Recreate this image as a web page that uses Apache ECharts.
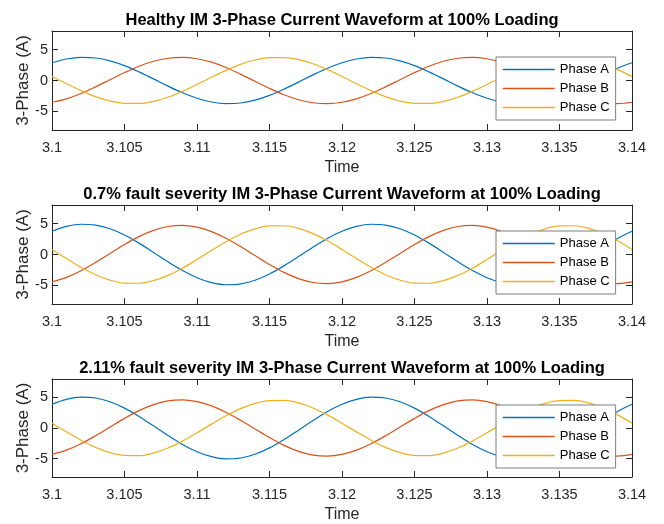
<!DOCTYPE html>
<html>
<head>
<meta charset="utf-8">
<script src="https://cdn.jsdelivr.net/npm/echarts@6/dist/echarts.min.js"></script>
<style>
  html, body { margin: 0; padding: 0; background: #fff; }
  #chart { width: 664px; height: 524px; }
</style>
</head>
<body>
<div id="chart"></div>
<script>
const time = [3.100, 3.101, 3.102, 3.103, 3.104, 3.105, 3.106, 3.107, 3.108, 3.109,
  3.110, 3.111, 3.112, 3.113, 3.114, 3.115, 3.116, 3.117, 3.118, 3.119,
  3.120, 3.121, 3.122, 3.123, 3.124, 3.125, 3.126, 3.127, 3.128, 3.129,
  3.130, 3.131, 3.132, 3.133, 3.134, 3.135, 3.136, 3.137, 3.138, 3.139, 3.140];

const titles = [
  "Healthy IM 3-Phase Current Waveform at 100% Loading",
  "0.7% fault severity IM 3-Phase Current Waveform at 100% Loading",
  "2.11% fault severity IM 3-Phase Current Waveform at 100% Loading"
];
const phaseNames = ["Phase A", "Phase B", "Phase C"];
const xTicks = [3.1, 3.105, 3.11, 3.115, 3.12, 3.125, 3.13, 3.135, 3.14];
const yTicks = [-5, 0, 5];

// healthy
const healthyA = [2.87, 3.48, 3.74, 3.64, 3.18, 2.41, 1.40, 0.26, -0.91, -1.99,
  -2.87, -3.48, -3.74, -3.64, -3.18, -2.41, -1.40, -0.26, 0.91, 1.99,
  2.87, 3.48, 3.74, 3.64, 3.18, 2.41, 1.40, 0.26, -0.91, -1.99,
  -2.87, -3.48, -3.74, -3.64, -3.18, -2.41, -1.40, -0.26, 0.91, 1.99, 2.87];
const healthyB = [-3.52, -2.96, -2.10, -1.03, 0.13, 1.28, 2.31, 3.11, 3.60, 3.75,
  3.52, 2.96, 2.10, 1.03, -0.13, -1.28, -2.31, -3.11, -3.60, -3.75,
  -3.52, -2.96, -2.10, -1.03, 0.13, 1.28, 2.31, 3.11, 3.60, 3.75,
  3.52, 2.96, 2.10, 1.03, -0.13, -1.28, -2.31, -3.11, -3.60, -3.75, -3.52];
const healthyC = [0.65, -0.52, -1.64, -2.61, -3.31, -3.69, -3.71, -3.37, -2.70, -1.76,
  -0.65, 0.52, 1.64, 2.61, 3.31, 3.69, 3.71, 3.37, 2.70, 1.76,
  0.65, -0.52, -1.64, -2.61, -3.31, -3.69, -3.71, -3.37, -2.70, -1.76,
  -0.65, 0.52, 1.64, 2.61, 3.31, 3.69, 3.71, 3.37, 2.70, 1.76, 0.65];

// 0.7% fault
const fault07A = [3.75, 4.54, 4.89, 4.75, 4.16, 3.15, 1.84, 0.34, -1.19, -2.60,
  -3.75, -4.54, -4.89, -4.75, -4.16, -3.15, -1.84, -0.34, 1.19, 2.60,
  3.75, 4.54, 4.89, 4.75, 4.16, 3.15, 1.84, 0.34, -1.19, -2.60,
  -3.75, -4.54, -4.89, -4.75, -4.16, -3.15, -1.84, -0.34, 1.19, 2.60, 3.75];
const fault07B = [-4.42, -3.70, -2.63, -1.30, 0.16, 1.61, 2.89, 3.90, 4.52, 4.70,
  4.42, 3.70, 2.63, 1.30, -0.16, -1.61, -2.89, -3.90, -4.52, -4.70,
  -4.42, -3.70, -2.63, -1.30, 0.16, 1.61, 2.89, 3.90, 4.52, 4.70,
  4.42, 3.70, 2.63, 1.30, -0.16, -1.61, -2.89, -3.90, -4.52, -4.70, -4.42];
const fault07C = [0.82, -0.65, -2.06, -3.27, -4.15, -4.63, -4.65, -4.22, -3.38, -2.21,
  -0.82, 0.65, 2.06, 3.27, 4.15, 4.63, 4.65, 4.22, 3.38, 2.21,
  0.82, -0.65, -2.06, -3.27, -4.15, -4.63, -4.65, -4.22, -3.38, -2.21,
  -0.82, 0.65, 2.06, 3.27, 4.15, 4.63, 4.65, 4.22, 3.38, 2.21, 0.82];

// 2.11% fault
const fault211A = [3.87, 4.68, 5.04, 4.90, 4.28, 3.25, 1.89, 0.35, -1.22, -2.68,
  -3.87, -4.68, -5.04, -4.90, -4.28, -3.25, -1.89, -0.35, 1.22, 2.68,
  3.87, 4.68, 5.04, 4.90, 4.28, 3.25, 1.89, 0.35, -1.22, -2.68,
  -3.87, -4.68, -5.04, -4.90, -4.28, -3.25, -1.89, -0.35, 1.22, 2.68, 3.87];
const fault211B = [-4.32, -3.62, -2.57, -1.27, 0.16, 1.57, 2.83, 3.81, 4.42, 4.60,
  4.32, 3.62, 2.57, 1.27, -0.16, -1.57, -2.83, -3.81, -4.42, -4.60,
  -4.32, -3.62, -2.57, -1.27, 0.16, 1.57, 2.83, 3.81, 4.42, 4.60,
  4.32, 3.62, 2.57, 1.27, -0.16, -1.57, -2.83, -3.81, -4.42, -4.60, -4.32];
const fault211C = [0.79, -0.63, -1.99, -3.16, -4.02, -4.48, -4.51, -4.09, -3.27, -2.14,
  -0.79, 0.63, 1.99, 3.16, 4.02, 4.48, 4.51, 4.09, 3.27, 2.14,
  0.79, -0.63, -1.99, -3.16, -4.02, -4.48, -4.51, -4.09, -3.27, -2.14,
  -0.79, 0.63, 1.99, 3.16, 4.02, 4.48, 4.51, 4.09, 3.27, 2.14, 0.79];

const panels = [
  [healthyA, healthyB, healthyC],
  [fault07A, fault07B, fault07C],
  [fault211A, fault211B, fault211C]
];

const colors = ["#0072BD", "#D95319", "#EDB120"];
const FONT = "'Liberation Sans', Arial, sans-serif";
const AX = "#262626";
const tops = [31, 205, 379];
const plotH = 99;

const grid = [], xAxis = [], yAxis = [], series = [], title = [], legend = [];

tops.forEach((top, i) => {
  grid.push({ left: 52, top: top, width: 580, height: plotH, show: false });
  title.push({
    text: titles[i], left: 337, top: top - 24, textAlign: "center",
    textStyle: { fontFamily: FONT, fontSize: 16.5, fontWeight: "bold", color: "#000" }
  });
  const xBase = {
    type: "value", gridIndex: i, min: 3.1, max: 3.14, interval: 0.005,
    axisLine: { show: true, onZero: false, lineStyle: { color: AX, width: 1 } },
    axisTick: { show: true, inside: true, length: 6, lineStyle: { color: AX } },
    splitLine: { show: false }
  };
  xAxis.push(Object.assign({}, xBase, {
    position: "bottom",
    name: "Time", nameLocation: "middle", nameGap: 30,
    nameTextStyle: { fontFamily: FONT, fontSize: 16, color: AX },
    axisLabel: {
      fontFamily: FONT, fontSize: 14.5, color: AX, margin: 10,
      formatter: (v) => { const t = xTicks.find((x) => Math.abs(x - v) < 1e-9); return t === undefined ? "" : String(t); }
    }
  }));
  xAxis.push(Object.assign({}, xBase, { position: "top", axisLabel: { show: false } }));
  const yBase = {
    type: "value", gridIndex: i, min: -8, max: 8,
    axisLine: { show: true, onZero: false, lineStyle: { color: AX, width: 1 } },
    axisTick: { show: true, inside: true, length: 6, customValues: yTicks, lineStyle: { color: AX } },
    splitLine: { show: false }
  };
  yAxis.push(Object.assign({}, yBase, {
    position: "left",
    name: "3-Phase (A)", nameLocation: "middle", nameGap: 20, nameMoveOverlap: false,
    nameTextStyle: { fontFamily: FONT, fontSize: 17, color: AX },
    axisLabel: { fontFamily: FONT, fontSize: 14.5, color: AX, margin: 4, customValues: yTicks }
  }));
  yAxis.push(Object.assign({}, yBase, { position: "right", axisLabel: { show: false } }));

  panels[i].forEach((vals, k) => {
    series.push({
      name: phaseNames[k], type: "line", xAxisIndex: 2 * i, yAxisIndex: 2 * i,
      data: time.map((t, j) => [t, vals[j]]),
      smooth: 0.35, symbol: "none", silent: true,
      lineStyle: { color: colors[k], width: 1.2 }, itemStyle: { color: colors[k] }
    });
  });

  legend.push({
    data: phaseNames,
    orient: "vertical", left: 496, top: top + 26,
    itemWidth: 52, itemHeight: 14, itemGap: 6, padding: [6, 6, 6, 6],
    itemStyle: { opacity: 0 },
    lineStyle: { width: 1.5 },
    backgroundColor: "#fff", borderColor: "#7f7f7f", borderWidth: 1,
    textStyle: { fontFamily: FONT, fontSize: 13, color: "#000" },
    selectedMode: false
  });
});

const chart = echarts.init(document.getElementById("chart"), null, { renderer: "canvas" });
chart.setOption({
  backgroundColor: "#fff", animation: false,
  title, grid, xAxis, yAxis, series, legend
});
</script>
</body>
</html>
